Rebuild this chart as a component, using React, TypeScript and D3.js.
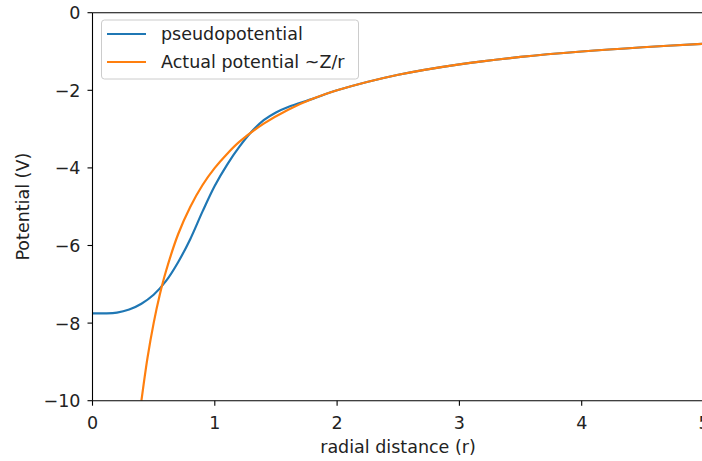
import React from 'react';
import * as d3 from 'd3';

// values
const actualR = [0.4, 0.45, 0.5, 0.55, 0.6, 0.7, 0.8, 0.9, 1.0, 1.1, 1.2, 1.4, 1.6, 1.8, 2.0, 2.5, 3.0, 3.5, 4.0, 4.5, 5.0];
const actualV = [-10, -8.89, -8, -7.27, -6.67, -5.71, -5, -4.44, -4, -3.64, -3.33, -2.86, -2.5, -2.22, -2, -1.6, -1.33, -1.14, -1, -0.89, -0.8];

const pseudoR = [0, 0.1, 0.2, 0.3, 0.4, 0.5, 0.6, 0.7, 0.8, 0.9, 1.0, 1.1, 1.2, 1.3, 1.4, 1.5, 1.6, 1.8, 2.0, 2.5, 3.0, 3.5, 4.0, 4.5, 5.0];
const pseudoV = [-7.75, -7.75, -7.73, -7.65, -7.5, -7.27, -6.92, -6.43, -5.83, -5.12, -4.46, -3.92, -3.46, -3.07, -2.77, -2.57, -2.43, -2.22, -2, -1.6, -1.33, -1.14, -1, -0.89, -0.8];

const xTicks = [0, 1, 2, 3, 4, 5];
const yTicks = [0, -2, -4, -6, -8, -10];

const legendItems = [
  { label: 'pseudopotential', color: '#1f77b4' },
  { label: 'Actual potential ~Z/r', color: '#ff7f0e' },
];

const W = 702;
const H = 461;
const left = 92.5;
const top = 12.7;
const plotW = 611.5;
const plotH = 388;
const font = 'DejaVu Sans, sans-serif';
const fs = 17.5;

export default function App() {
  const x = d3.scaleLinear().domain([0, 5]).range([left, left + plotW]);
  const y = d3.scaleLinear().domain([-10, 0]).range([top + plotH, top]);

  const line = d3.line<[number, number]>()
    .x(d => x(d[0]))
    .y(d => y(d[1]))
    .curve(d3.curveCatmullRom.alpha(0.5));

  const pseudo = pseudoR.map((r, i) => [r, pseudoV[i]] as [number, number]);
  const actual = actualR.map((r, i) => [r, actualV[i]] as [number, number]);

  const fmt = (v: number) => (v < 0 ? '\u2212' + Math.abs(v) : String(v));

  return (
    <svg width={W} height={H} style={{ position: 'absolute', left: 0, top: 0, background: '#fff' }} fontFamily={font}>
      <defs>
        <clipPath id="plot">
          <rect x={left} y={top} width={plotW} height={plotH} />
        </clipPath>
      </defs>
      <rect x={0} y={0} width={W} height={H} fill="#fff" />
      <g clipPath="url(#plot)">
        <path d={line(pseudo) || ''} fill="none" stroke="#1f77b4" strokeWidth={2.2} />
        <path d={line(actual) || ''} fill="none" stroke="#ff7f0e" strokeWidth={2.2} />
      </g>
      {/* spines */}
      <line x1={left} x2={left} y1={top} y2={top + plotH} stroke="#000" strokeWidth={1.1} />
      <line x1={left} x2={left + plotW} y1={top + plotH} y2={top + plotH} stroke="#000" strokeWidth={1.1} />
      <line x1={left} x2={left + plotW} y1={top} y2={top} stroke="#000" strokeWidth={1.1} />
      <line x1={left + plotW} x2={left + plotW} y1={top} y2={top + plotH} stroke="#000" strokeWidth={1.1} />
      {xTicks.map(t => (
        <g key={'x' + t}>
          <line x1={x(t)} x2={x(t)} y1={top + plotH} y2={top + plotH + 5} stroke="#000" strokeWidth={1.1} />
          <text x={x(t)} y={top + plotH + 28} textAnchor="middle" fontSize={fs} fill="#222">{fmt(t)}</text>
        </g>
      ))}
      {yTicks.map(t => (
        <g key={'y' + t}>
          <line x1={left - 5} x2={left} y1={y(t)} y2={y(t)} stroke="#000" strokeWidth={1.1} />
          <text x={left - 12} y={y(t) + 6.5} textAnchor="end" fontSize={fs} fill="#222">{fmt(t)}</text>
        </g>
      ))}
      <text x={398} y={453} textAnchor="middle" fontSize={fs} fill="#222">radial distance (r)</text>
      <text transform={`translate(29,${top + plotH / 2}) rotate(-90)`} textAnchor="middle" fontSize={fs} fill="#222">Potential (V)</text>
      {/* legend */}
      <rect x={101.5} y={20} width={257} height={59} rx={3} fill="#fff" fillOpacity={0.8} stroke="#ccc" strokeWidth={1} />
      {legendItems.map((d, i) => (
        <g key={d.label}>
          <line x1={107} x2={146} y1={34 + i * 28} y2={34 + i * 28} stroke={d.color} strokeWidth={2.2} />
          <text x={161} y={40 + i * 28} fontSize={fs} fill="#222">{d.label}</text>
        </g>
      ))}
    </svg>
  );
}
